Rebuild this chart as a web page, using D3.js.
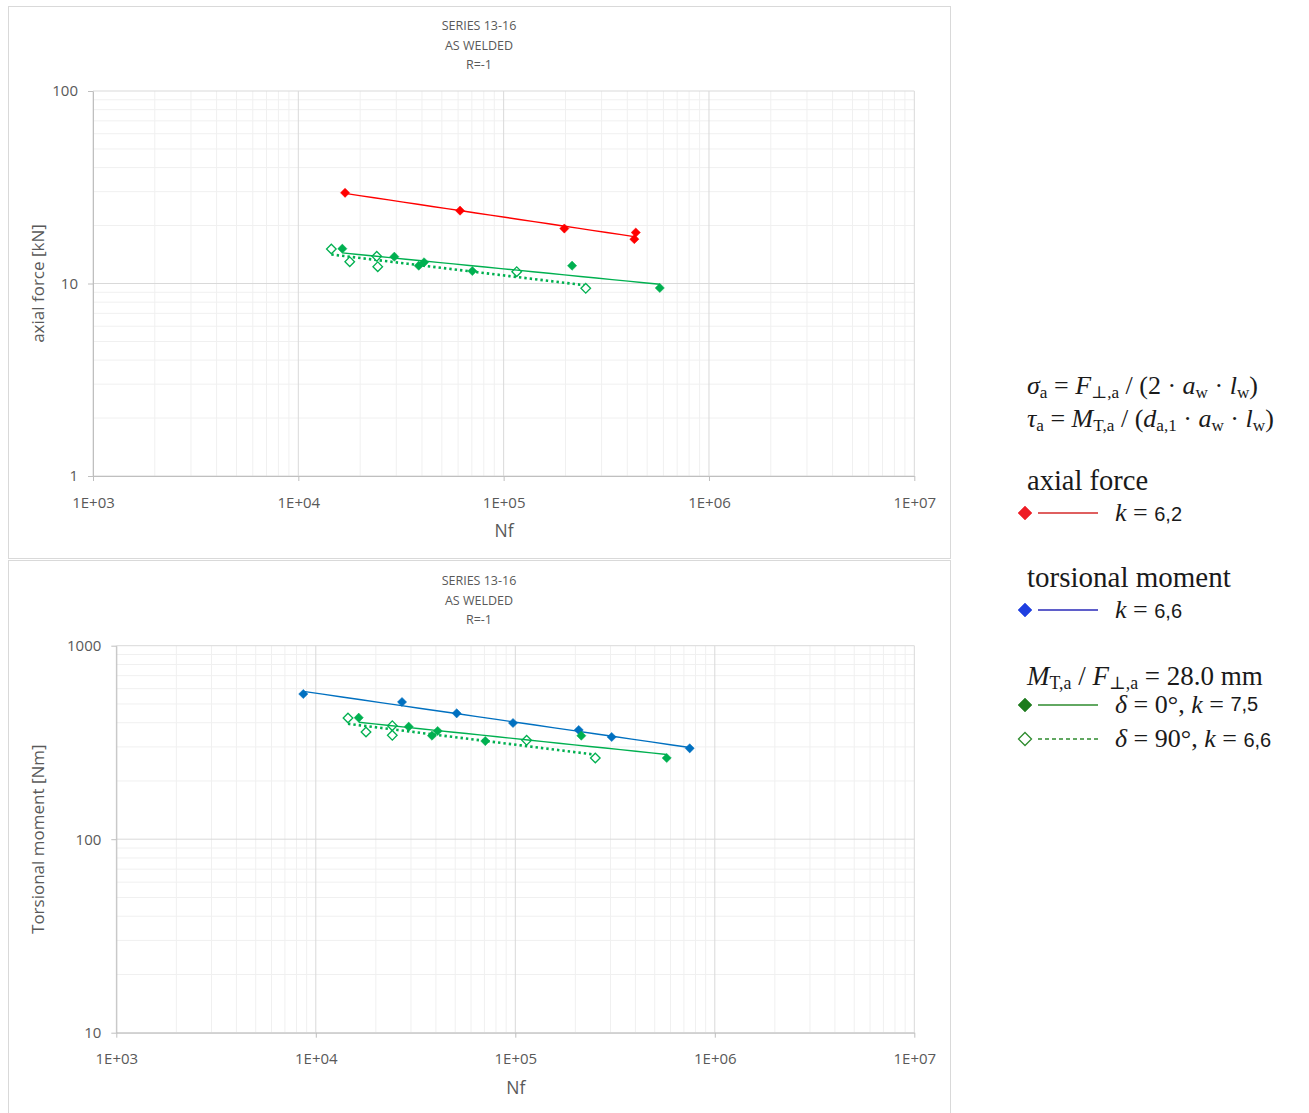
<!DOCTYPE html>
<html><head><meta charset="utf-8">
<script src="https://cdn.jsdelivr.net/npm/d3@7"></script>
<style>body{margin:0;background:#fff} svg{display:block}</style>
</head><body>
<svg id="c" width="1309" height="1113"></svg>
<script>
// ---------- data ----------
const titleLines = ["SERIES 13-16", "AS WELDED", "R=-1"];
const xTickValues = [1e3, 1e4, 1e5, 1e6, 1e7];
const topYTicks = [1, 10, 100];
const botYTicks = [10, 100, 1000];

// axial force chart (N cycles, F kN)
const axialN = [16890, 61330, 197500, 440000, 433000];
const axialF = [29.6, 23.9, 19.3, 18.4, 17.0];
const topD0N = [16380, 29350, 38590, 40970, 70390, 215400, 575900];
const topD0F = [15.16, 13.78, 12.37, 12.89, 11.61, 12.37, 9.48];
const topD90N = [14480, 17800, 24100, 24370, 115800, 251100];
const topD90F = [15.11, 12.98, 13.84, 12.23, 11.52, 9.44];

// torsional moment chart (N cycles, M Nm)
const torsN = [8656, 27050, 50850, 97390, 207900, 304200, 748500];
const torsM = [562.8, 511.7, 447.3, 398.6, 366.8, 337.5, 295.0];
const botD0N = [16410, 29220, 38230, 40830, 70730, 214200, 574100];
const botD0M = [424.5, 381.4, 342.7, 362.4, 321.6, 342.7, 262.8];
const botD90N = [14500, 17850, 24180, 24180, 114000, 251800];
const botD90M = [423.0, 358.1, 386.0, 344.3, 324.4, 262.8];

// ---------- drawing ----------
const svg = d3.select("#c");
const FONT = "'Open Sans', sans-serif";
const RED = "#ff0000", BLUE = "#0070c0", GREEN = "#00b050";

// panel frames
svg.append("rect").attr("x", 8.5).attr("y", 6.5).attr("width", 942).attr("height", 552)
  .attr("fill", "#fff").attr("stroke", "#d9d9d9");
svg.append("rect").attr("x", 8.5).attr("y", 560.5).attr("width", 942).attr("height", 560)
  .attr("fill", "#fff").attr("stroke", "#d9d9d9");

function fitPower(xs, ys) {
  const lx = xs.map(Math.log10), ly = ys.map(Math.log10);
  const mx = d3.mean(lx), my = d3.mean(ly);
  const b = d3.sum(lx, (v, i) => (v - mx) * (ly[i] - my)) / d3.sum(lx, v => (v - mx) ** 2);
  const a = my - b * mx;
  return x => Math.pow(10, a + b * Math.log10(x));
}

function diamond(r) { return `M0,${-r}L${r},0L0,${r}L${-r},0Z`; }

function drawChart(cfg) {
  const g = svg.append("g");
  const x = d3.scaleLog().domain([1e3, 1e7]).range([cfg.x0, cfg.x1]);
  const y = d3.scaleLog().domain(cfg.yDomain).range([cfg.y1, cfg.y0]);

  // titles
  titleLines.forEach((t, i) => g.append("text").attr("x", 479).attr("y", cfg.titleY + i * 19.5)
    .attr("text-anchor", "middle").attr("font-family", FONT).attr("font-size", 12.5)
    .attr("fill", "#595959").text(t));

  // minor grid
  const minorX = [], minorY = [];
  for (let d = 1e3; d < 1e7; d *= 10) for (let m = 2; m <= 9; m++) minorX.push(d * m);
  for (let d = cfg.yDomain[0]; d < cfg.yDomain[1]; d *= 10) for (let m = 2; m <= 9; m++) minorY.push(d * m);
  g.selectAll(null).data(minorX).enter().append("line")
    .attr("x1", d => x(d)).attr("x2", d => x(d)).attr("y1", cfg.y0).attr("y2", cfg.y1)
    .attr("stroke", "#f0f0f0");
  g.selectAll(null).data(minorY).enter().append("line")
    .attr("y1", d => y(d)).attr("y2", d => y(d)).attr("x1", cfg.x0).attr("x2", cfg.x1)
    .attr("stroke", "#f0f0f0");
  // major grid
  g.selectAll(null).data(xTickValues).enter().append("line")
    .attr("x1", d => x(d)).attr("x2", d => x(d)).attr("y1", cfg.y0).attr("y2", cfg.y1)
    .attr("stroke", "#d9d9d9");
  g.selectAll(null).data(cfg.yTicks).enter().append("line")
    .attr("y1", d => y(d)).attr("y2", d => y(d)).attr("x1", cfg.x0).attr("x2", cfg.x1)
    .attr("stroke", "#d9d9d9");

  // axes
  const fmt = n => "1E+" + String(Math.round(Math.log10(n))).padStart(2, "0");
  const xa = g.append("g").attr("transform", `translate(0,${cfg.y1})`)
    .call(d3.axisBottom(x).tickValues(xTickValues).tickFormat(fmt).tickSizeOuter(0).tickSizeInner(5).tickPadding(16));
  const ya = g.append("g").attr("transform", `translate(${cfg.x0},0)`)
    .call(d3.axisLeft(y).tickValues(cfg.yTicks).tickFormat(d3.format("d")).tickSizeOuter(0).tickSizeInner(5).tickPadding(10));
  [xa, ya].forEach(a => {
    a.select(".domain").attr("stroke", "#bfbfbf");
    a.selectAll(".tick line").attr("stroke", "#bfbfbf");
    a.selectAll(".tick text").attr("fill", "#595959").attr("font-family", FONT).attr("font-size", 15);
  });
  g.append("text").attr("x", (cfg.x0 + cfg.x1) / 2 + 0.5).attr("y", cfg.y1 + 61)
    .attr("text-anchor", "middle").attr("font-family", FONT).attr("font-size", 17.5)
    .attr("fill", "#595959").text("Nf");
  g.append("text").attr("transform", `translate(44,${(cfg.y0 + cfg.y1) / 2}) rotate(-90)`)
    .attr("text-anchor", "middle").attr("font-family", FONT).attr("font-size", 17)
    .attr("fill", "#595959").text(cfg.yLabel);

  // series
  cfg.series.forEach(s => {
    const f = fitPower(s.xs, s.ys);
    const ext = d3.extent(s.xs);
    const pts = d3.range(0, 21).map(i => ext[0] * Math.pow(ext[1] / ext[0], i / 20));
    g.append("path").datum(pts)
      .attr("d", d3.line().x(d => x(d)).y(d => y(f(d))))
      .attr("fill", "none").attr("stroke", s.color)
      .attr("stroke-width", s.dotted ? 2.6 : 1.4)
      .attr("stroke-dasharray", s.dotted ? "2.4,3" : null);
    g.selectAll(null).data(s.xs.map((v, i) => [v, s.ys[i]])).enter().append("path")
      .attr("transform", d => `translate(${x(d[0])},${y(d[1])})`)
      .attr("d", s.open ? diamond(4.8) : diamond(4.6))
      .attr("fill", s.open ? "#fff" : s.color)
      .attr("stroke", s.color).attr("stroke-width", s.open ? 1.3 : 0.5);
  });
}

drawChart({
  x0: 93, x1: 914.3, y0: 91, y1: 476, yDomain: [1, 100], yTicks: topYTicks,
  titleY: 30, yLabel: "axial force [kN]",
  series: [
    { xs: axialN, ys: axialF, color: RED },
    { xs: topD90N, ys: topD90F, color: GREEN, open: true, dotted: true },
    { xs: topD0N, ys: topD0F, color: GREEN }
  ]
});
drawChart({
  x0: 116.3, x1: 914.3, y0: 645.7, y1: 1032.7, yDomain: [10, 1000], yTicks: botYTicks,
  titleY: 585, yLabel: "Torsional moment [Nm]",
  series: [
    { xs: torsN, ys: torsM, color: BLUE },
    { xs: botD90N, ys: botD90M, color: GREEN, open: true, dotted: true },
    { xs: botD0N, ys: botD0M, color: GREEN }
  ]
});

// ---------- legend ----------
const SERIF = "'Liberation Serif', 'DejaVu Serif', serif";
const SANS = "'Liberation Sans', Arial, sans-serif";
const INK = "#1a1a1a";
function rich(x, yb, size, parts) {
  const t = svg.append("text").attr("x", x).attr("y", yb).attr("font-family", SERIF)
    .attr("font-size", size).attr("fill", INK);
  let shift = 0;
  parts.forEach(([txt, st, nsz]) => {
    const sub = st.includes("s");
    const target = sub ? size * 0.14 : (st.includes("u") ? -size * 0.06 : 0);
    const sp = t.append("tspan").attr("dy", target - shift).text(txt);
    shift = target;
    if (st.includes("i")) sp.attr("font-style", "italic");
    if (sub) sp.attr("font-size", size * 0.66);
    if (st.includes("n")) sp.attr("font-family", SANS).attr("font-size", nsz || size * 0.8);
  });
  return t;
}
rich(1027, 394, 26, [["σ", "i"], ["a", "s"], [" = ", ""], ["F", "i"], ["⊥,a", "s"], [" / (2 · ", ""],
  ["a", "i"], ["w", "s"], [" · ", ""], ["l", "i"], ["w", "s"], [")", ""]]);
rich(1027, 427, 26, [["τ", "i"], ["a", "s"], [" = ", ""], ["M", "i"], ["T,a", "s"], [" / (", ""],
  ["d", "i"], ["a,1", "s"], [" · ", ""], ["a", "i"], ["w", "s"], [" · ", ""], ["l", "i"], ["w", "s"], [")", ""]]);

rich(1027, 490, 28.5, [["axial force", ""]]);
rich(1027, 587, 29, [["torsional moment", ""]]);
rich(1027, 685, 27, [["M", "i"], ["T,a", "s"], [" / ", ""], ["F", "i"], ["⊥,a", "s"], [" = 28.0 mm", ""]]);

const legItems = [
  { y: 513, c: "#ee1c25", lc: "#d42a2a", parts: [["k", "i"], [" =   ", ""], ["6,2", "n", 20]] },
  { y: 610, c: "#1f3fe0", lc: "#2a2ab8", parts: [["k", "i"], [" =   ", ""], ["6,6", "n", 20]] },
  { y: 705, c: "#1e7b1e", lc: "#2e8b2e", parts: [["δ", "i"], [" = 0°, ", ""], ["k", "i"], [" =  ", ""], ["7,5", "nu", 20]] },
  { y: 739, c: "#2e8b2e", lc: "#2e8b2e", open: true, parts: [["δ", "i"], [" = 90°, ", ""], ["k", "i"], [" = ", ""], ["6,6", "n", 20]] }
];
legItems.forEach(it => {
  svg.append("line").attr("x1", 1038).attr("x2", 1098).attr("y1", it.y).attr("y2", it.y)
    .attr("stroke", it.lc).attr("stroke-width", 1.3).attr("stroke-dasharray", it.open ? "4,3" : null);
  svg.append("path").attr("transform", `translate(1025,${it.y})`).attr("d", diamond(it.open ? 6.5 : 7))
    .attr("fill", it.open ? "#fff" : it.c).attr("stroke", it.c).attr("stroke-width", it.open ? 1.3 : 0.5);
  rich(1115, it.y + 8, 26, it.parts);
});
</script>
</body></html>
